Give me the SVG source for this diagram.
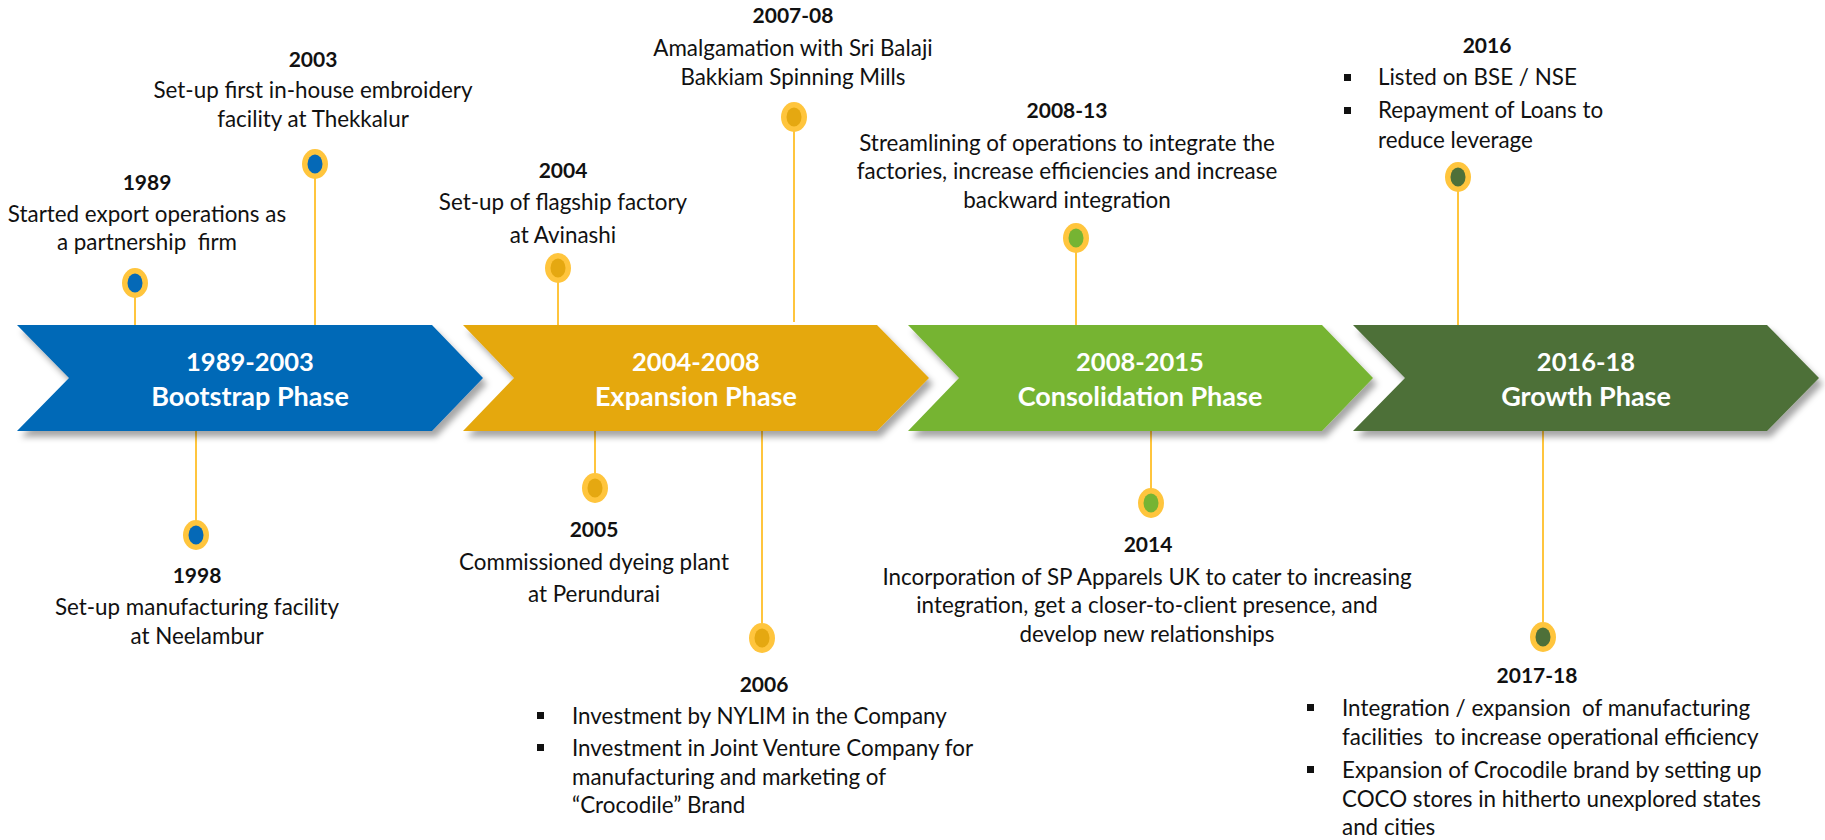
<svg xmlns="http://www.w3.org/2000/svg" width="1825" height="840" viewBox="0 0 1825 840">
<defs>
<filter id="sh" x="-5%" y="-10%" width="115%" height="130%">
<feDropShadow dx="4" dy="6" stdDeviation="3" flood-color="#000" flood-opacity="0.35"/>
</filter>
</defs>
<style>
text{font-family:Lato,"Open Sans","Liberation Sans",sans-serif;fill:#111;white-space:pre}
.yr{font-weight:bold;font-size:21px;text-anchor:middle}
.b{font-size:22.4px}
.c{text-anchor:middle}
.ph{font-weight:bold;font-size:27px;fill:#fff;text-anchor:middle}
.py{font-size:25.5px}
.stem{stroke:#FFC53D;stroke-width:2;fill:none}
.ring{fill:#FFC53D}
.sq{fill:#111}
</style>
<rect width="1825" height="840" fill="#fff"/>
<g id="connectors">
<line class="stem" x1="135" y1="297" x2="135" y2="325"/>
<line class="stem" x1="315" y1="178" x2="315" y2="325"/>
<line class="stem" x1="196" y1="431" x2="196" y2="521"/>
<line class="stem" x1="558" y1="282" x2="558" y2="325"/>
<line class="stem" x1="794" y1="131" x2="794" y2="322"/>
<line class="stem" x1="595" y1="431" x2="595" y2="474"/>
<line class="stem" x1="762" y1="431" x2="762" y2="624"/>
<line class="stem" x1="1076" y1="252" x2="1076" y2="325"/>
<line class="stem" x1="1151" y1="431" x2="1151" y2="489"/>
<line class="stem" x1="1458" y1="191" x2="1458" y2="325"/>
<line class="stem" x1="1543" y1="431" x2="1543" y2="623"/>
</g>
<g id="phase-1">
<polygon points="17,325 432,325 483,378 432,431 17,431 69,378" fill="#0569B7" filter="url(#sh)"/>
<text class="ph py" x="250" y="371">1989-2003</text>
<text class="ph" x="250" y="406">Bootstrap Phase</text>
</g>
<g id="phase-2">
<polygon points="463,325 877,325 929,378 877,431 463,431 514,378" fill="#E5A811" filter="url(#sh)"/>
<text class="ph py" x="696" y="371">2004-2008</text>
<text class="ph" x="696" y="406">Expansion Phase</text>
</g>
<g id="phase-3">
<polygon points="908,325 1322,325 1373,378 1322,431 908,431 959,378" fill="#76B433" filter="url(#sh)"/>
<text class="ph py" x="1140" y="371">2008-2015</text>
<text class="ph" x="1140" y="406">Consolidation Phase</text>
</g>
<g id="phase-4">
<polygon points="1353,325 1767,325 1819,378 1767,431 1353,431 1405,378" fill="#4E7039" filter="url(#sh)"/>
<text class="ph py" x="1586" y="371">2016-18</text>
<text class="ph" x="1586" y="406">Growth Phase</text>
</g>
<g id="ev-1989">
<ellipse class="ring" cx="135" cy="283" rx="13" ry="15"/>
<ellipse cx="135" cy="283" rx="7.5" ry="9.5" fill="#0569B7"/>
<text class="yr" x="147" y="190">1989</text>
<text class="b c" x="147" y="222">Started export operations as</text>
<text class="b c" x="147" y="250" xml:space="preserve">a partnership  firm</text>
</g>
<g id="ev-2003">
<ellipse class="ring" cx="315" cy="164" rx="13" ry="15"/>
<ellipse cx="315" cy="164" rx="7.5" ry="9.5" fill="#0569B7"/>
<text class="yr" x="313" y="67">2003</text>
<text class="b c" x="313" y="98">Set-up first in-house embroidery</text>
<text class="b c" x="313" y="127">facility at Thekkalur</text>
</g>
<g id="ev-1998">
<ellipse class="ring" cx="196" cy="535" rx="13" ry="15"/>
<ellipse cx="196" cy="535" rx="7.5" ry="9.5" fill="#0569B7"/>
<text class="yr" x="197" y="583">1998</text>
<text class="b c" x="197" y="615">Set-up manufacturing facility</text>
<text class="b c" x="197" y="644">at Neelambur</text>
</g>
<g id="ev-2004">
<ellipse class="ring" cx="558" cy="268" rx="13" ry="15"/>
<ellipse cx="558" cy="268" rx="7.5" ry="9.5" fill="#E5A811"/>
<text class="yr" x="563" y="178">2004</text>
<text class="b c" x="563" y="210">Set-up of flagship factory</text>
<text class="b c" x="563" y="243">at Avinashi</text>
</g>
<g id="ev-2007-08">
<ellipse class="ring" cx="794" cy="117" rx="13" ry="15"/>
<ellipse cx="794" cy="117" rx="7.5" ry="9.5" fill="#E5A811"/>
<text class="yr" x="793" y="23">2007-08</text>
<text class="b c" x="793" y="56">Amalgamation with Sri Balaji</text>
<text class="b c" x="793" y="85">Bakkiam Spinning Mills</text>
</g>
<g id="ev-2005">
<ellipse class="ring" cx="595" cy="488" rx="13" ry="15"/>
<ellipse cx="595" cy="488" rx="7.5" ry="9.5" fill="#E5A811"/>
<text class="yr" x="594" y="537">2005</text>
<text class="b c" x="594" y="570">Commissioned dyeing plant</text>
<text class="b c" x="594" y="602">at Perundurai</text>
</g>
<g id="ev-2006">
<ellipse class="ring" cx="762" cy="638" rx="13" ry="15"/>
<ellipse cx="762" cy="638" rx="7.5" ry="9.5" fill="#E5A811"/>
<text class="yr" x="764" y="692">2006</text>
<rect class="sq" x="537" y="712" width="7" height="7"/>
<text class="b" x="572" y="724">Investment by NYLIM in the Company</text>
<rect class="sq" x="537" y="744" width="7" height="7"/>
<text class="b" x="572" y="756">Investment in Joint Venture Company for</text>
<text class="b" x="572" y="785">manufacturing and marketing of</text>
<text class="b" x="572" y="813">“Crocodile” Brand</text>
</g>
<g id="ev-2008-13">
<ellipse class="ring" cx="1076" cy="238" rx="13" ry="15"/>
<ellipse cx="1076" cy="238" rx="7.5" ry="9.5" fill="#76B433"/>
<text class="yr" x="1067" y="118">2008-13</text>
<text class="b c" x="1067" y="151">Streamlining of operations to integrate the</text>
<text class="b c" x="1067" y="179">factories, increase efficiencies and increase</text>
<text class="b c" x="1067" y="208">backward integration</text>
</g>
<g id="ev-2014">
<ellipse class="ring" cx="1151" cy="503" rx="13" ry="15"/>
<ellipse cx="1151" cy="503" rx="7.5" ry="9.5" fill="#76B433"/>
<text class="yr" x="1148" y="552">2014</text>
<text class="b c" x="1147" y="585">Incorporation of SP Apparels UK to cater to increasing</text>
<text class="b c" x="1147" y="613">integration, get a closer-to-client presence, and</text>
<text class="b c" x="1147" y="642">develop new relationships</text>
</g>
<g id="ev-2016">
<ellipse class="ring" cx="1458" cy="177" rx="13" ry="15"/>
<ellipse cx="1458" cy="177" rx="7.5" ry="9.5" fill="#4E7039"/>
<text class="yr" x="1487" y="53">2016</text>
<rect class="sq" x="1344" y="74" width="7" height="7"/>
<text class="b" x="1378" y="85">Listed on BSE / NSE</text>
<rect class="sq" x="1344" y="107" width="7" height="7"/>
<text class="b" x="1378" y="118">Repayment of Loans to</text>
<text class="b" x="1378" y="148">reduce leverage</text>
</g>
<g id="ev-2017-18">
<ellipse class="ring" cx="1543" cy="637" rx="13" ry="15"/>
<ellipse cx="1543" cy="637" rx="7.5" ry="9.5" fill="#4E7039"/>
<text class="yr" x="1537" y="683">2017-18</text>
<rect class="sq" x="1307" y="704" width="7" height="7"/>
<text class="b" x="1342" y="716" xml:space="preserve">Integration / expansion  of manufacturing</text>
<text class="b" x="1342" y="745" xml:space="preserve">facilities  to increase operational efficiency</text>
<rect class="sq" x="1307" y="766" width="7" height="7"/>
<text class="b" x="1342" y="778">Expansion of Crocodile brand by setting up</text>
<text class="b" x="1342" y="807">COCO stores in hitherto unexplored states</text>
<text class="b" x="1342" y="835">and cities</text>
</g>
</svg>
